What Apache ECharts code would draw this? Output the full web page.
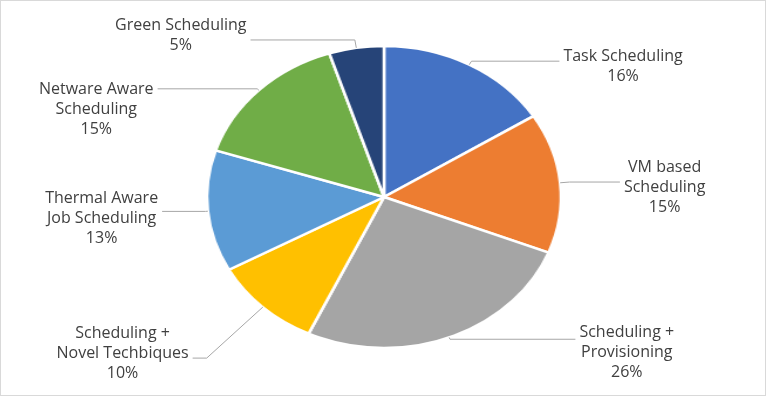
<!DOCTYPE html>
<html>
<head>
<meta charset="utf-8">
<title>Scheduling pie</title>
<script src="https://cdn.jsdelivr.net/npm/echarts@6/dist/echarts.min.js"></script>
<style>
  html, body { margin: 0; padding: 0; background: #fff; overflow: hidden; }
  #frame { position: absolute; left: 0; top: 0; width: 766px; height: 396px; border: 1px solid #d9d9d9; box-sizing: border-box; }
  .layer { position: absolute; left: 0; top: 0; width: 769px; height: 397px; }
  /* the original pie is an ellipse: draw a round pie and stretch it sideways */
  #slices { transform-origin: 384px 197px; transform: scaleX(1.172); }
</style>
</head>
<body>
<div id="frame"></div>
<div id="slices" class="layer"></div>
<div id="labels" class="layer"></div>
<script>
  const categories = [
    'Task Scheduling',
    'VM based\nScheduling',
    'Scheduling +\nProvisioning',
    'Scheduling +\nNovel Techbiques',
    'Thermal Aware\nJob Scheduling',
    'Netware Aware\nScheduling',
    'Green Scheduling'
  ];
  const shares = [16, 15, 26, 10, 13, 15, 5];
  const colors = ['#4472C4', '#ED7D31', '#A5A5A5', '#FFC000', '#5B9BD5', '#70AD47', '#264478'];

  // leader line segments and label offsets
  const lineLen = [4, 8, 2, 70, 2, 2, 8];
  const lineLen2 = [75, 43, 107, 12, 37, 85, 89];
  const labelShift = [5, 5, 13, -5, 7, 21, -5];

  const CX = 384, CY = 197, R = 151, STRETCH = 1.172, GAP = 4;
  const TEXT = '#404040';

  const slices = echarts.init(document.getElementById('slices'));
  slices.setOption({
    animation: false,
    series: [{
      type: 'pie',
      center: [CX, CY],
      radius: R,
      silent: true,
      label: { show: false },
      labelLine: { show: false },
      itemStyle: { borderColor: '#fff', borderWidth: 2.5 },
      data: categories.map((name, i) => ({ name: name, value: shares[i], itemStyle: { color: colors[i] } }))
    }]
  });

  // same pie, invisible, only for labels and leader lines
  const labels = echarts.init(document.getElementById('labels'));
  labels.setOption({
    animation: false,
    series: [{
      type: 'pie',
      center: [CX, CY],
      radius: R,
      silent: true,
      avoidLabelOverlap: false,
      itemStyle: { color: 'rgba(0,0,0,0)' },
      label: {
        show: true,
        position: 'outside',
        alignTo: 'none',
        verticalAlign: 'middle',
        color: TEXT,
        fontFamily: 'Open Sans',
        fontSize: 16,
        lineHeight: 20,
        formatter: function (p) {
          return (p.name + '\n' + Math.round(p.percent) + '%')
            .split('\n').map(s => '{t|' + s + '}').join('\n');
        },
        rich: {
          t: { align: 'center', color: TEXT, fontFamily: 'Open Sans', fontSize: 16, lineHeight: 20 }
        }
      },
      labelLine: { show: true, lineStyle: { color: '#A6A6A6', width: 1 } },
      labelLayout: function (params) {
        const i = params.dataIndex;
        const pts = params.labelLinePoints.map(p => [CX + (p[0] - CX) * STRETCH, p[1]]);
        const end = pts[pts.length - 1];
        const right = end[0] > CX;
        return {
          x: end[0] + (right ? GAP : -GAP),
          y: end[1] + labelShift[i],
          labelLinePoints: pts
        };
      },
      data: categories.map((name, i) => ({
        name: name,
        value: shares[i],
        labelLine: { length: lineLen[i], length2: lineLen2[i] }
      }))
    }]
  });
</script>
</body>
</html>
